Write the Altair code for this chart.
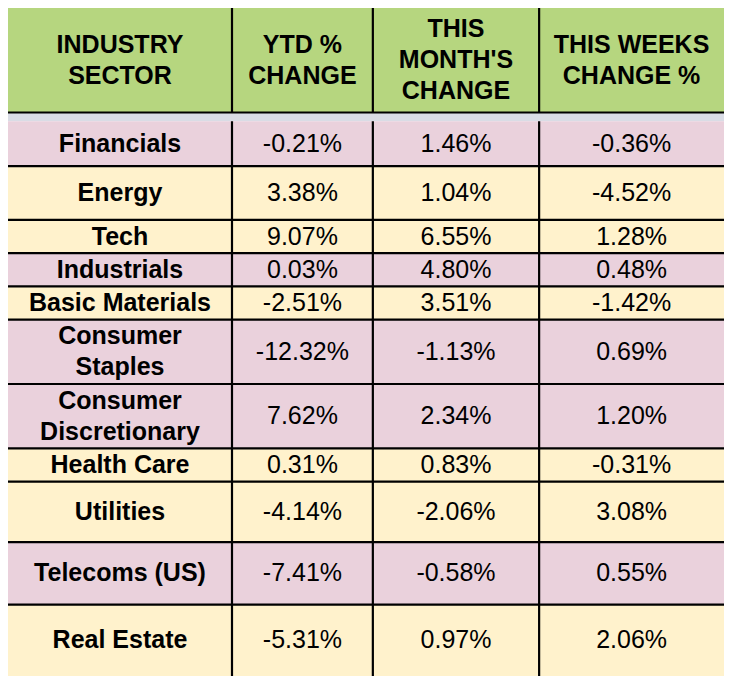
import altair as alt
import pandas as pd

# ---- data ----
headers = ["INDUSTRY\nSECTOR", "YTD %\nCHANGE", "THIS\nMONTH'S\nCHANGE", "THIS WEEKS\nCHANGE %"]
sectors = ["Financials", "Energy", "Tech", "Industrials", "Basic Materials",
           "Consumer\nStaples", "Consumer\nDiscretionary", "Health Care",
           "Utilities", "Telecoms (US)", "Real Estate"]
ytd = [-0.21, 3.38, 9.07, 0.03, -2.51, -12.32, 7.62, 0.31, -4.14, -7.41, -5.31]
month = [1.46, 1.04, 6.55, 4.80, 3.51, -1.13, 2.34, 0.83, -2.06, -0.58, 0.97]
week = [-0.36, -4.52, 1.28, 0.48, -1.42, 0.69, 1.20, -0.31, 3.08, 0.55, 2.06]

# ---- layout / style ----
W, H = 716, 668
REF_W, REF_H = 732, 684
col_edges = [0, 229, 373, 543, 732]
header_bottom = 107
row_edges = [116, 162, 217, 251, 285, 319, 385, 451, 485, 547, 611, 684]
GREEN, GRAY, PINK, YELLOW = "#b6d67f", "#d9dce5", "#ead1dc", "#fff2cc"
row_fill = [PINK, YELLOW, YELLOW, PINK, YELLOW, PINK, PINK, YELLOW, YELLOW, PINK, YELLOW]
FONT = "Liberation Sans"
FS = 25
LH = 31  # output pixels
LH_REF = LH * REF_H / H


def fmt(v):
    return f"{v:.2f}%"


cells = []
for j, h in enumerate(headers):
    cells.append(dict(x=col_edges[j], x2=col_edges[j + 1], y=0, y2=header_bottom,
                      fill=GREEN, text=h, bold=True))
cells.append(dict(x=col_edges[0], x2=col_edges[-1], y=header_bottom, y2=row_edges[0],
                  fill=GRAY, text="", bold=False))
for i, s in enumerate(sectors):
    vals = [s, fmt(ytd[i]), fmt(month[i]), fmt(week[i])]
    for j, v in enumerate(vals):
        cells.append(dict(x=col_edges[j], x2=col_edges[j + 1], y=row_edges[i], y2=row_edges[i + 1],
                          fill=row_fill[i], text=v, bold=(j == 0)))
df = pd.DataFrame(cells)
df["cx"] = (df["x"] + df["x2"]) / 2
nlines = df["text"].str.count("\n")
df["cy"] = (df["y"] + df["y2"]) / 2 - nlines * LH_REF / 2

lines = []
for yy in [header_bottom] + row_edges[1:-1]:
    lines.append(dict(x=col_edges[0], x2=col_edges[-1], y=yy, y2=yy))
for xx in col_edges[1:-1]:
    lines.append(dict(x=xx, x2=xx, y=0, y2=header_bottom))
    lines.append(dict(x=xx, x2=xx, y=row_edges[0], y2=row_edges[-1]))
ldf = pd.DataFrame(lines)

xs = alt.Scale(domain=[0, REF_W], nice=False, zero=False)
ys = alt.Scale(domain=[0, REF_H], nice=False, zero=False, reverse=True)

base = alt.Chart(df)
rects = base.mark_rect(strokeWidth=0).encode(
    x=alt.X("x:Q", scale=xs, axis=None), x2="x2:Q",
    y=alt.Y("y:Q", scale=ys, axis=None), y2="y2:Q",
    fill=alt.Fill("fill:N", scale=None),
)
rules = alt.Chart(ldf).mark_rule(color="black", strokeWidth=2.2).encode(
    x=alt.X("x:Q", scale=xs, axis=None), x2="x2:Q",
    y=alt.Y("y:Q", scale=ys, axis=None), y2="y2:Q",
)
bold_text = base.transform_filter("datum.bold").mark_text(
    font=FONT, fontSize=FS, fontWeight="bold", align="center", baseline="middle",
    lineBreak="\n", lineHeight=LH, color="black",
).encode(
    x=alt.X("cx:Q", scale=xs, axis=None), y=alt.Y("cy:Q", scale=ys, axis=None), text="text:N"
)
reg_text = base.transform_filter("!datum.bold").mark_text(
    font=FONT, fontSize=FS, align="center", baseline="middle",
    lineBreak="\n", lineHeight=LH, color="black",
).encode(
    x=alt.X("cx:Q", scale=xs, axis=None), y=alt.Y("cy:Q", scale=ys, axis=None), text="text:N"
)

chart = alt.layer(rects, rules, bold_text, reg_text).properties(
    width=W, height=H, padding=0, autosize=alt.AutoSizeParams(type="none")
).configure_view(stroke=None)

chart.save("out.html", embed_options={"renderer": "svg", "actions": False})
